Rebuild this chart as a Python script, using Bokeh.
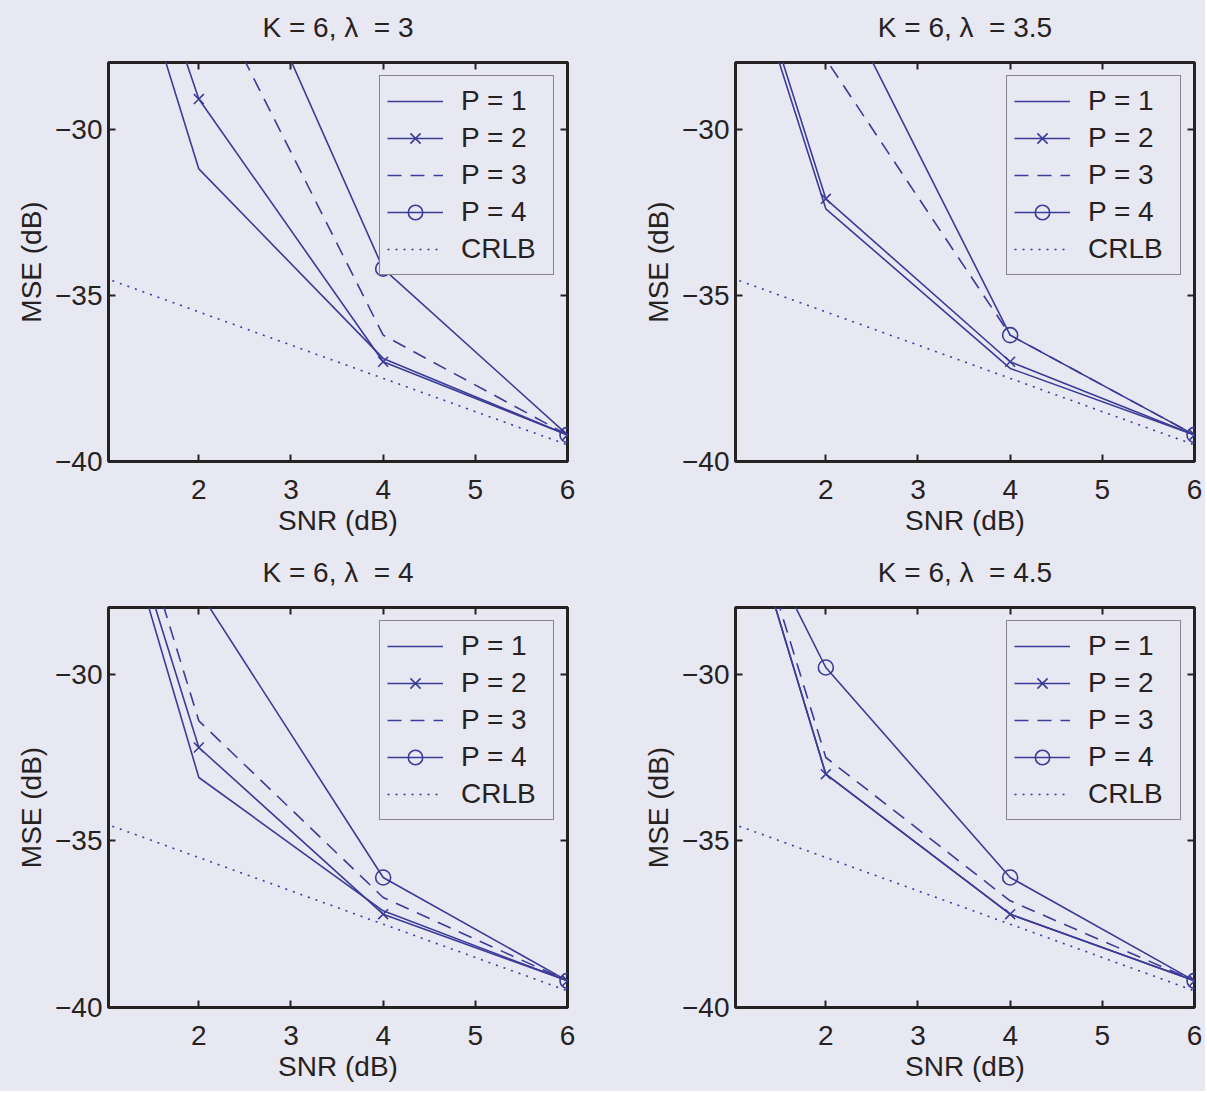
from bokeh.plotting import figure
from bokeh.layouts import gridplot
from bokeh.models import (LinearAxis, Legend, LegendItem, FixedTicker, Range1d,
                          CustomJSTickFormatter)
from bokeh.embed import file_html
from bokeh.resources import INLINE

# ---------------- data ----------------
snr = [0, 2, 4, 6]
x_ticks = [2, 3, 4, 5, 6]
y_ticks = [-40, -35, -30]
series_labels = ["P = 1", "P = 2", "P = 3", "P = 4", "CRLB"]
titles = ["K = 6, \u03bb\u00a0 = 3", "K = 6, \u03bb\u00a0 = 3.5",
          "K = 6, \u03bb\u00a0 = 4", "K = 6, \u03bb\u00a0 = 4.5"]

crlb = [-33.5, -35.5, -37.5, -39.5]

lam3_p1 = [-13.3, -31.2, -36.9, -39.2]
lam3_p2 = [-12.7, -29.1, -37.0, -39.2]
lam3_p3 = [-12.0, -25.2, -36.2, -39.2]
lam3_p4 = [-10.0, -21.7, -34.2, -39.2]

lam35_p1 = [-15.0, -32.4, -37.2, -39.2]
lam35_p2 = [-14.5, -32.1, -37.0, -39.2]
lam35_p3 = [-14.0, -27.9, -36.2, -39.2]
lam35_p4 = [-12.0, -25.2, -36.2, -39.2]

lam4_p1 = [-14.3, -33.1, -37.1, -39.2]
lam4_p2 = [-14.4, -32.2, -37.2, -39.2]
lam4_p3 = [-13.4, -31.4, -36.7, -39.2]
lam4_p4 = [-12.0, -27.5, -36.1, -39.2]

lam45_p1 = [-14.7, -33.0, -37.2, -39.2]
lam45_p2 = [-14.7, -33.0, -37.2, -39.2]
lam45_p3 = [-14.5, -32.5, -36.8, -39.2]
lam45_p4 = [-18.8, -29.8, -36.1, -39.2]

panels = [
    (lam3_p1, lam3_p2, lam3_p3, lam3_p4),
    (lam35_p1, lam35_p2, lam35_p3, lam35_p4),
    (lam4_p1, lam4_p2, lam4_p3, lam4_p4),
    (lam45_p1, lam45_p2, lam45_p3, lam45_p4),
]

# ---------------- style ----------------
BG = "#e8e8f3"
LINE = "#3b3b98"
INK = "#262222"
FONT = "Liberation Sans"
FS = "28px"

minus_fmt = "return (tick < 0 ? '\\u2212' : '') + Math.abs(tick).toString();"


def style_axis(ax, labels=True):
    ax.axis_line_color = None
    ax.major_tick_in = 7
    ax.major_tick_out = 0
    ax.major_tick_line_color = INK
    ax.major_tick_line_width = 2
    ax.minor_tick_line_color = None
    ax.major_label_text_font = FONT
    ax.major_label_text_color = INK
    ax.axis_label_text_font = FONT
    ax.axis_label_text_font_size = FS
    ax.axis_label_text_font_style = "normal"
    ax.axis_label_text_color = INK
    if labels:
        ax.major_label_text_font_size = FS
    else:
        ax.formatter = CustomJSTickFormatter(code="return '';")
        ax.major_label_text_font_size = "1px"
        ax.major_label_standoff = 0


def make_panel(idx, width, height, bl, bt, br, bb):
    p1, p2, p3, p4 = panels[idx]
    p = figure(width=width, height=height, output_backend="svg",
               toolbar_location=None,
               x_range=Range1d(1.02, 6.0), y_range=Range1d(-40, -28),
               min_border_left=bl, min_border_top=bt,
               min_border_right=br, min_border_bottom=bb)
    p.background_fill_color = BG
    p.border_fill_color = BG
    p.outline_line_color = INK
    p.outline_line_width = 3
    p.grid.visible = False

    xa = p.xaxis[0]
    ya = p.yaxis[0]
    xa.ticker = FixedTicker(ticks=x_ticks)
    ya.ticker = FixedTicker(ticks=y_ticks)
    ya.formatter = CustomJSTickFormatter(code=minus_fmt)
    style_axis(xa)
    style_axis(ya)
    xa.major_label_standoff = 18
    ya.major_label_standoff = 6
    xa.axis_label = "SNR (dB)"
    ya.axis_label = "MSE (dB)"
    xa.axis_label_standoff = 3
    ya.axis_label_standoff = 5

    # top axis carries the panel title as its label
    top = LinearAxis(ticker=FixedTicker(ticks=x_ticks))
    right = LinearAxis(ticker=FixedTicker(ticks=y_ticks))
    style_axis(top, labels=False)
    style_axis(right, labels=False)
    top.axis_label = titles[idx]
    top.axis_label_standoff = 20
    p.add_layout(top, "above")
    p.add_layout(right, "right")

    r1 = p.line(snr, p1, line_color=LINE, line_width=1.6)
    r2 = p.line(snr, p2, line_color=LINE, line_width=1.6)
    m2 = p.scatter(snr, p2, marker="x", size=14, line_color=LINE, line_width=1.6)
    r3 = p.line(snr, p3, line_color=LINE, line_width=1.6, line_dash="14 9")
    r4 = p.line(snr, p4, line_color=LINE, line_width=1.6)
    m4 = p.scatter(snr, p4, marker="circle", size=15, line_color=LINE,
                   fill_color=None, line_width=1.6)
    rc = p.line(snr, crlb, line_color=LINE, line_width=1.6, line_dash="2 6")

    items = [
        LegendItem(label=series_labels[0], renderers=[r1]),
        LegendItem(label=series_labels[1], renderers=[r2, m2]),
        LegendItem(label=series_labels[2], renderers=[r3]),
        LegendItem(label=series_labels[3], renderers=[r4, m4]),
        LegendItem(label=series_labels[4], renderers=[rc]),
    ]
    leg = Legend(items=items, location="top_right")
    leg.label_text_font = FONT
    leg.label_text_font_size = FS
    leg.label_text_color = INK
    leg.glyph_width = 56
    leg.glyph_height = 36
    leg.label_height = 36
    leg.label_width = 85
    leg.label_standoff = 18
    leg.padding = 7
    leg.spacing = 1
    leg.margin = 13
    leg.border_line_color = INK
    leg.border_line_width = 1.5
    leg.background_fill_color = BG
    leg.background_fill_alpha = 1.0
    p.add_layout(leg)
    return p


fa = make_panel(0, 628, 551, 108, 62, 61, 90)
fb = make_panel(1, 577, 551, 107, 62, 11, 90)
fc = make_panel(2, 628, 540, 108, 56, 61, 84)
fd = make_panel(3, 577, 540, 107, 56, 11, 84)

grid = gridplot([[fa, fb], [fc, fd]], toolbar_location=None)
grid.styles = {"background-color": BG}

open("out.html", "w").write(file_html(grid, INLINE))
